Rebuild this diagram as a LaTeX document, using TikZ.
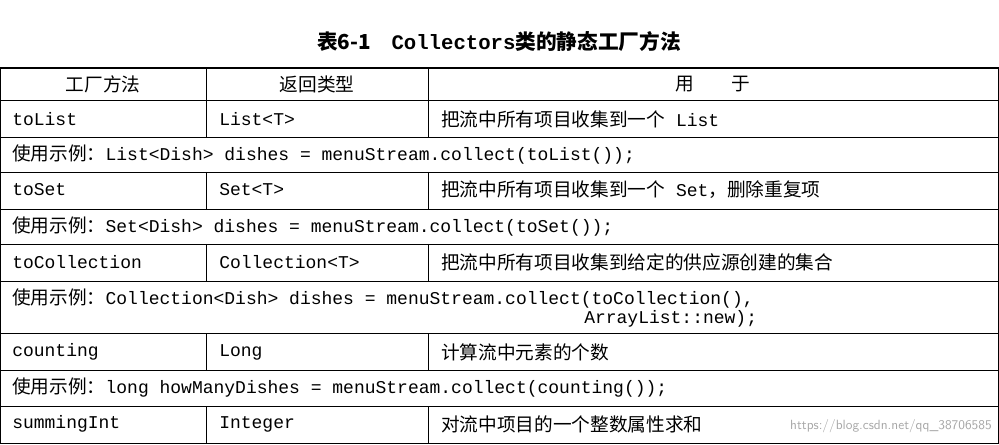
\documentclass[tikz,border=0pt]{standalone}
\usepackage{fontspec}
\setmonofont{Liberation Mono}
\newfontfamily\cjk{Noto Sans CJK SC}
\newcommand\cj[1]{{\cjk\fontsize{14}{16}\selectfont #1}}
\begin{document}
\begin{tikzpicture}[x=0.75pt,y=-0.75pt,
  cell/.style={anchor=west,inner sep=0pt,font=\ttfamily\fontsize{13.5}{16}\selectfont},
  hd/.style={inner sep=0pt,font=\cjk\fontsize{14}{16}\selectfont},
  rule/.style={line width=0.6pt}]
\useasboundingbox (0,0) rectangle (999,445);
\node[inner sep=0pt,font=\cjk\fontsize{15.5}{18}\selectfont] (title) at (499,42) {\bfseries 表6-1\quad\texttt{\bfseries Collectors}类的静态工厂方法};
\draw[line width=1.2pt] (0,68) -- (999,68);
\foreach \y in {100,137,172,209,244,281,333,370,406,443} \draw[rule] (0,\y) -- (999,\y);
\draw[rule] (0.5,68) -- (0.5,443);
\draw[rule] (998.5,68) -- (998.5,443);
\foreach \a/\b in {68/137,172/209,244/281,333/370,406/443}{
  \draw[rule] (206,\a) -- (206,\b);
  \draw[rule] (428,\a) -- (428,\b);}
\node[hd] (h1) at (103,84) {工厂方法};
\node[hd] (h2) at (317,84) {返回类型};
\node[hd] (h3) at (713,84) {用\qquad 于};
\node[cell] (a1) at (12,119) {toList};
\node[cell] (b1) at (219,119) {List<T>};
\node[cell] (c1) at (441,119) {\cj{把流中所有项目收集到一个} List};
\node[cell] (e1) at (12,155) {\cj{使用示例：}List<Dish> dishes = menuStream.collect(toList());};
\node[cell] (a2) at (12,190) {toSet};
\node[cell] (b2) at (219,190) {Set<T>};
\node[cell] (c2) at (441,190) {\cj{把流中所有项目收集到一个} Set\cj{，删除重复项}};
\node[cell] (e2) at (12,227) {\cj{使用示例：}Set<Dish> dishes = menuStream.collect(toSet());};
\node[cell] (a3) at (12,262) {toCollection};
\node[cell] (b3) at (219,262) {Collection<T>};
\node[cell] (c3) at (441,262) {\cj{把流中所有项目收集到给定的供应源创建的集合}};
\node[cell] (e3) at (12,299) {\cj{使用示例：}Collection<Dish> dishes = menuStream.collect(toCollection(),};
\node[cell] (e3b) at (584,319) {ArrayList::new);};
\node[cell] (a4) at (12,352) {counting};
\node[cell] (b4) at (219,352) {Long};
\node[cell] (c4) at (441,352) {\cj{计算流中元素的个数}};
\node[cell] (e4) at (12,388) {\cj{使用示例：}long howManyDishes = menuStream.collect(counting());};
\node[cell] (a5) at (12,424) {summingInt};
\node[cell] (b5) at (219,424) {Integer};
\node[cell] (c5) at (441,424) {\cj{对流中项目的一个整数属性求和}};
\node[anchor=east,inner sep=0pt,text=black!35,font=\sffamily\fontsize{10}{11}\selectfont] (wm) at (992,426) {https://blog.csdn.net/qq\_38706585};
\end{tikzpicture}
\end{document}
